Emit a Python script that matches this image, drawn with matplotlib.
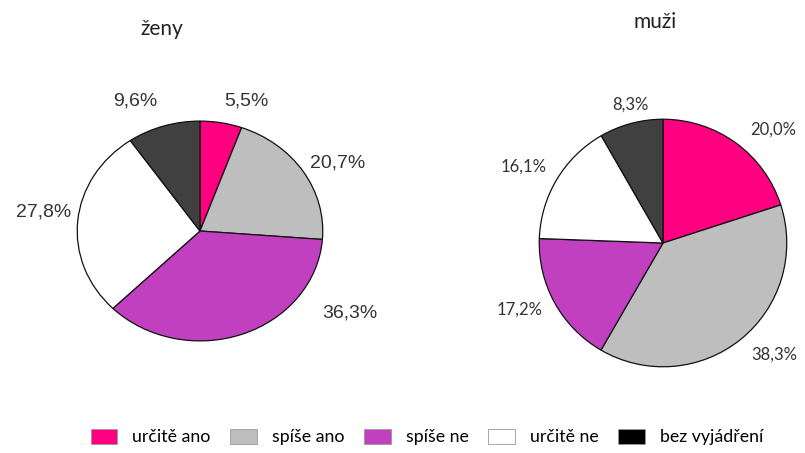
import matplotlib
matplotlib.use("Agg")
import matplotlib.pyplot as plt
from matplotlib.patches import Patch

# data
categories = ["určitě ano", "spíše ano", "spíše ne", "určitě ne", "bez vyjádření"]
zeny = [5.5, 20.7, 36.3, 27.8, 9.6]
muzi = [20.0, 38.3, 17.2, 16.1, 8.3]
pie_colors = ["#FF0080", "#BEBEBE", "#C040C0", "#FFFFFF", "#404040"]
legend_colors = ["#FF0080", "#BEBEBE", "#C040C0", "#FFFFFF", "#000000"]

# where the value labels sit (pie units, radius = 1)
zeny_label_pos = [(0.38, 1.18), (1.12, 0.62), (1.22, -0.75), (-1.27, 0.17), (-0.53, 1.18)]
muzi_label_pos = [(0.89, 0.92), (0.90, -0.90), (-1.16, -0.54), (-1.13, 0.62), (-0.26, 1.12)]

W, H = 805, 453
fig = plt.figure(figsize=(W / 100, H / 100), dpi=100)

def px_axes(x0, y0, x1, y1):
    # pixel box (top-left origin) -> figure axes
    return fig.add_axes([x0 / W, 1 - y1 / H, (x1 - x0) / W, (y1 - y0) / H])

def draw_pie(ax, values, positions, font, size):
    ax.pie(values, colors=pie_colors, startangle=90, counterclock=False,
           wedgeprops=dict(edgecolor="#111111", linewidth=0.9))
    for v, (x, y) in zip(values, positions):
        ax.text(x, y, f"{v:.1f}%".replace(".", ","), ha="center", va="center",
                fontsize=size, family=font, color="#333333")
    ax.set_aspect("auto")
    ax.set_xlim(-1.01, 1.01)
    ax.set_ylim(-1.01, 1.01)
    ax.axis("off")

ax1 = px_axes(76, 120, 324, 342)
draw_pie(ax1, zeny, zeny_label_pos, "Liberation Sans", 14)

ax2 = px_axes(538, 118, 788, 368)
draw_pie(ax2, muzi, muzi_label_pos, "Lato", 12)

fig.text(162 / W, 1 - 29 / H, "ženy", ha="center", va="center", fontsize=15, family="Lato", color="#222222")
fig.text(655 / W, 1 - 22 / H, "muži", ha="center", va="center", fontsize=15, family="Lato", color="#222222")

handles = [Patch(facecolor=c, edgecolor="#999999", linewidth=0.6) for c in legend_colors]
fig.legend(handles, categories, loc="center", bbox_to_anchor=(427 / W, 1 - 437 / H), ncol=5,
           frameon=False, prop=dict(family="Lato", size=12.8), handlelength=1.5, handleheight=0.95,
           columnspacing=1.1, handletextpad=0.85)

fig.savefig("out.png", dpi=100)
